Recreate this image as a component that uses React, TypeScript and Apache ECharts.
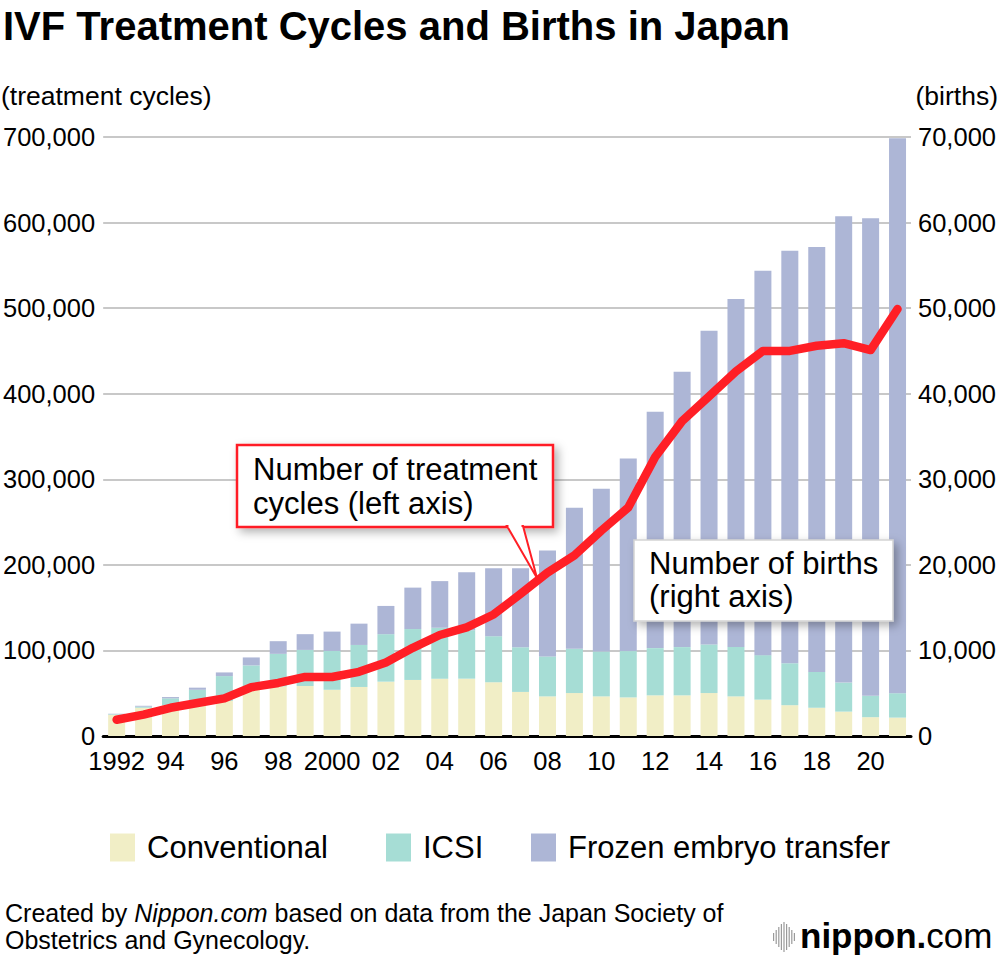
import React, { useEffect, useRef } from "react";
import * as echarts from "echarts";

const years = [
  "1992", "1993", "1994", "1995", "1996", "1997", "1998", "1999", "2000", "2001",
  "2002", "2003", "2004", "2005", "2006", "2007", "2008", "2009", "2010", "2011",
  "2012", "2013", "2014", "2015", "2016", "2017", "2018", "2019", "2020", "2021",
];
const tickLabels = [
  "1992", "", "94", "", "96", "", "98", "", "2000", "",
  "02", "", "04", "", "06", "", "08", "", "10", "",
  "12", "", "14", "", "16", "", "18", "", "20", "",
];
const conventional = [
  24800, 33000, 36000, 39000, 41000, 54000, 58000, 58400, 54000, 57300,
  63500, 65500, 67000, 67000, 62800, 51500, 46300, 50200, 46300, 45100,
  47500, 47500, 50200, 46300, 42500, 36000, 33000, 28500, 22000, 21500,
];
const icsi = [
  700, 1300, 8000, 15000, 29000, 28500, 38000, 42200, 45400, 49100,
  55500, 59500, 59500, 56600, 53800, 52200, 46700, 51800, 52500, 54100,
  55200, 56400, 56800, 57700, 52000, 49000, 41800, 34000, 25000, 28500,
];
const frozen = [
  500, 1000, 1500, 2500, 4300, 9300, 14800, 18400, 22600, 24900,
  33000, 48400, 54500, 67900, 79400, 92300, 123700, 164700, 190200, 225200,
  276300, 321700, 366600, 406600, 449100, 482000, 496700, 545000, 558000, 648500,
];
const births = [
  1900, 2500, 3300, 3850, 4400, 5700, 6200, 6900, 6900, 7500,
  8600, 10300, 11800, 12700, 14200, 16600, 19100, 21100, 24000, 26700,
  32600, 36800, 39700, 42600, 45000, 45000, 45600, 45900, 45100, 49900,
];

const FONT = "'Liberation Sans', Arial, Helvetica, sans-serif";
const COLORS = { conv: "#f1eec6", icsi: "#a6ddd5", frozen: "#adb6d6", line: "#ff1f26" };

export default function App() {
  const ref = useRef<HTMLDivElement>(null);
  useEffect(() => {
    if (!ref.current) return;
    const chart = echarts.init(ref.current, null, { renderer: "svg" });
    const fmt = (v: number) => v.toLocaleString("en-US");
    const legendBase = (name: string, left: number) => ({
      data: [name],
      left: left - 5,
      top: 832 - 5,
      orient: "horizontal",
      icon: "rect",
      itemWidth: 25,
      itemHeight: 28,
      selectedMode: false,
      textStyle: { fontSize: 31, color: "#000", fontFamily: FONT, padding: [0, 0, 0, 7] },
    });
    const barcode = [8, 14, 20, 26, 30, 26, 20, 14, 8];
    const Z = 100;
    const option: any = {
      animation: false,
      backgroundColor: "#fff",
      textStyle: { fontFamily: FONT },
      grid: { left: 102, right: 89, top: 137, bottom: 222, containLabel: false },
      legend: [
        legendBase("Conventional", 110),
        legendBase("ICSI", 386),
        legendBase("Frozen embryo transfer", 531),
      ],
      xAxis: {
        type: "category",
        data: years,
        axisLine: { lineStyle: { color: "#000", width: 3 } },
        axisTick: { show: false },
        axisLabel: {
          interval: 0,
          margin: 12,
          fontSize: 25.5,
          color: "#000",
          fontFamily: FONT,
          formatter: (_v: string, i: number) => tickLabels[i],
        },
      },
      yAxis: [
        {
          type: "value",
          min: 0,
          max: 700000,
          interval: 100000,
          position: "left",
          axisLine: { show: false },
          axisTick: { show: false },
          splitLine: { lineStyle: { color: "#c8c8c8", width: 2 } },
          axisLabel: { fontSize: 25.5, color: "#000", margin: 8, fontFamily: FONT, formatter: fmt },
        },
        {
          type: "value",
          min: 0,
          max: 70000,
          interval: 10000,
          position: "right",
          axisLine: { show: false },
          axisTick: { show: false },
          splitLine: { show: false },
          axisLabel: { fontSize: 25.5, color: "#000", margin: 7, fontFamily: FONT, formatter: fmt },
        },
      ],
      series: [
        { name: "Conventional", type: "bar", stack: "t", barWidth: 17, data: conventional, itemStyle: { color: COLORS.conv } },
        { name: "ICSI", type: "bar", stack: "t", barWidth: 17, data: icsi, itemStyle: { color: COLORS.icsi } },
        { name: "Frozen embryo transfer", type: "bar", stack: "t", barWidth: 17, data: frozen, itemStyle: { color: COLORS.frozen } },
        {
          name: "Births",
          type: "line",
          yAxisIndex: 1,
          data: births,
          showSymbol: false,
          symbol: "none",
          z: 5,
          lineStyle: { width: 8.5, color: COLORS.line, cap: "round", join: "round" },
        },
      ],
      graphic: [
        {
          type: "text",
          x: 3,
          y: 26,
          z: Z,
          style: { text: "IVF Treatment Cycles and Births in Japan", font: `bold 40px ${FONT}`, fill: "#000", textVerticalAlign: "middle" },
        },
        {
          type: "text",
          x: 1,
          y: 96,
          z: Z,
          style: { text: "(treatment cycles)", font: `26.5px ${FONT}`, fill: "#000", textVerticalAlign: "middle" },
        },
        {
          type: "text",
          x: 998,
          y: 96,
          z: Z,
          style: { text: "(births)", font: `26.5px ${FONT}`, fill: "#000", textAlign: "right", textVerticalAlign: "middle" },
        },
        // callout 1
        {
          type: "rect",
          z: Z,
          shape: { x: 237, y: 445, width: 316, height: 82 },
          style: { fill: "#fff", stroke: "#ff1f26", lineWidth: 2.5, shadowBlur: 10, shadowOffsetX: 4, shadowOffsetY: 4, shadowColor: "rgba(0,0,0,0.3)" },
        },
        {
          type: "polygon",
          z: Z + 1,
          shape: { points: [[507, 526], [523, 526], [537, 578]] },
          style: { fill: "#fff", stroke: "#ff1f26", lineWidth: 2 },
        },
        { type: "rect", z: Z + 2, shape: { x: 508.5, y: 523, width: 13, height: 4.5 }, style: { fill: "#fff" } },
        {
          type: "text",
          x: 253,
          y: 486,
          z: Z + 3,
          style: { text: "Number of treatment\ncycles (left axis)", font: `31px ${FONT}`, lineHeight: 34, fill: "#000", textVerticalAlign: "middle" },
        },
        // callout 2
        {
          type: "rect",
          z: Z,
          shape: { x: 634, y: 540, width: 259, height: 81 },
          style: { fill: "#fff", stroke: "#d4d4d4", lineWidth: 1.5, shadowBlur: 10, shadowOffsetX: 4, shadowOffsetY: 4, shadowColor: "rgba(0,0,0,0.3)" },
        },
        {
          type: "text",
          x: 649,
          y: 580,
          z: Z + 3,
          style: { text: "Number of births\n(right axis)", font: `31px ${FONT}`, lineHeight: 33, fill: "#000", textVerticalAlign: "middle" },
        },
        // footer
        {
          type: "text",
          x: 5,
          y: 926,
          z: Z,
          style: {
            text: "{n|Created by }{i|Nippon.com}{n| based on data from the Japan Society of}\n{n|Obstetrics and Gynecology.}",
            textVerticalAlign: "middle",
            rich: {
              n: { fontSize: 25, fontFamily: FONT, color: "#000", lineHeight: 27 },
              i: { fontSize: 25, fontFamily: FONT, color: "#000", fontStyle: "italic", lineHeight: 27 },
            },
          },
        },
        // logo
        ...barcode.map((h, i) => ({
          type: "rect",
          z: Z,
          shape: { x: 773 + i * 2.6, y: 937 - h / 2, width: 1.2, height: h },
          style: { fill: "#9a9a9a" },
        })),
        {
          type: "text",
          x: 800,
          y: 935,
          z: Z,
          style: {
            text: "{a|nippon}{b|.}{c|com}",
            textVerticalAlign: "middle",
            rich: {
              a: { fontSize: 35, fontWeight: "bold", fontFamily: FONT, color: "#3a3a3a" },
              b: { fontSize: 35, fontWeight: "bold", fontFamily: FONT, color: "#e60012" },
              c: { fontSize: 35, fontFamily: FONT, color: "#999999" },
            },
          },
        },
      ],
    };
    chart.setOption(option);
    return () => chart.dispose();
  }, []);
  return <div ref={ref} style={{ position: "fixed", left: 0, top: 0, width: 1000, height: 958 }} />;
}
